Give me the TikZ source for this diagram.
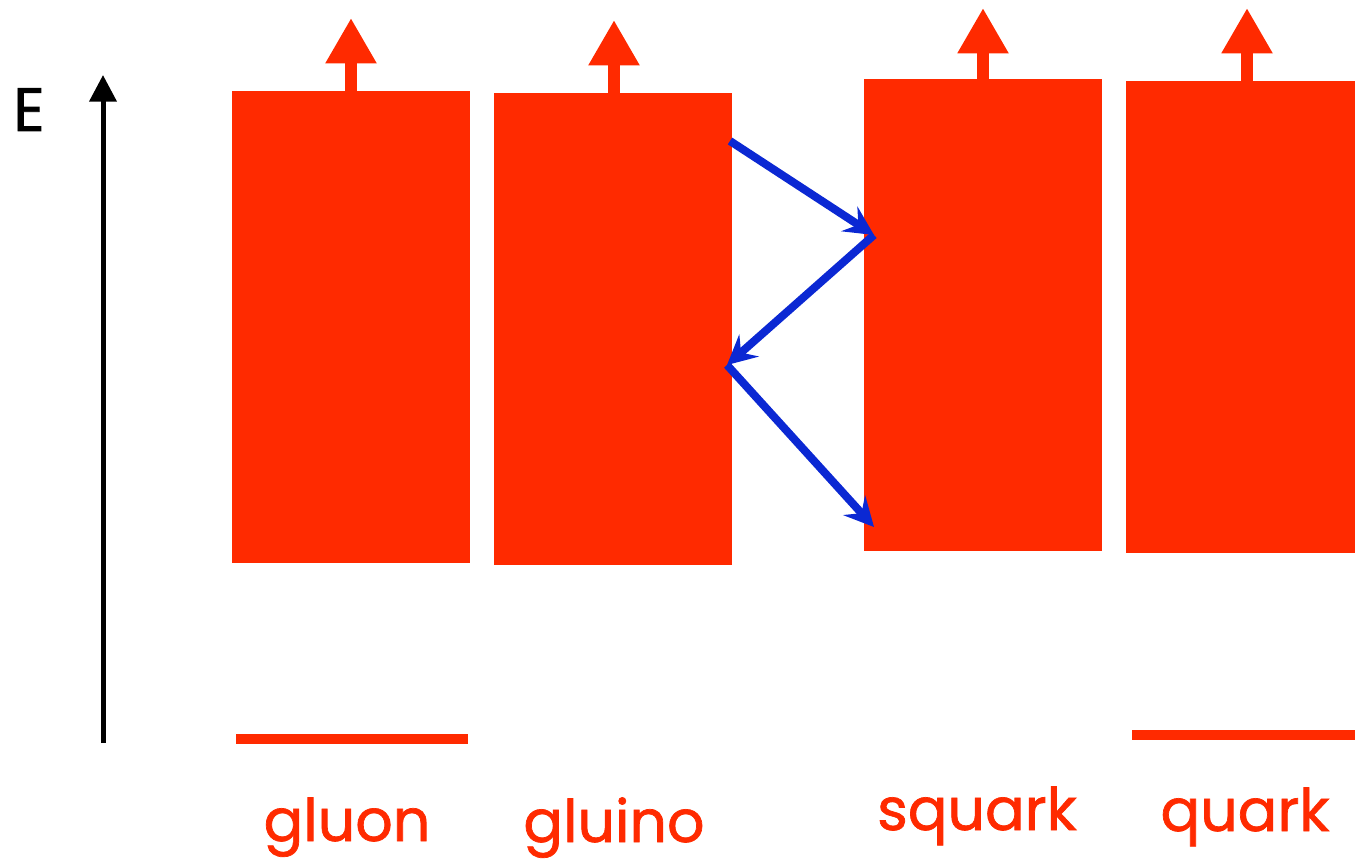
\documentclass[tikz,border=0pt]{standalone}
\usepackage{fontspec}
\setmainfont{Poppins}
\newfontfamily\lblfont[FakeBold=1.2]{Poppins}
\usetikzlibrary{arrows.meta}
\definecolor{hot}{HTML}{FF2A00}
\definecolor{zblue}{HTML}{0B28D3}
\begin{document}
\begin{tikzpicture}[x=0.75pt,y=-0.75pt,
  box/.style={fill=hot,draw=none,inner sep=0pt,outer sep=0pt,minimum width=178.5pt,minimum height=354pt},
  uparrow/.style={draw=hot,line width=9pt,-{Triangle[width=36pt,length=34pt]}},
  transition/.style={draw=zblue,line width=6pt,-{Stealth[length=22pt,width=22pt,inset=8pt]}},
  level/.style={draw=hot,line width=7.5pt},
  lbl/.style={text=hot,font=\lblfont\fontsize{44}{50}\selectfont,anchor=base,inner sep=0pt}]
\useasboundingbox (0,0) rectangle (1355,862);
% energy axis
\coordinate (axbot) at (103,743);
\coordinate (axtop) at (103,75);
\draw[line width=3.75pt,-{Triangle[width=20pt,length=20pt]}] (axbot) -- (axtop);
\node[anchor=base,inner sep=0pt,font=\lblfont\fontsize{46}{50}\selectfont] (E) at (29,131) {E};
% boxes
\node[box] (gluonbox) at (351,327) {};
\node[box] (gluinobox) at (613,329) {};
\node[box] (squarkbox) at (983,315) {};
\node[box,minimum width=171.75pt,anchor=north west] (quarkbox) at (1126,81) {};
% up arrows
\coordinate (t1) at (351,18);
\coordinate (t2) at (614,20);
\coordinate (t3) at (983,8);
\coordinate (t4) at (1247,8);
\draw[uparrow] (351,91) coordinate (b1) -- (t1);
\draw[uparrow] (614,93) coordinate (b2) -- (t2);
\draw[uparrow] (983,79) coordinate (b3) -- (t3);
\draw[uparrow] (1247,81) coordinate (b4) -- (t4);
% transitions
\coordinate (p1) at (730,141);
\coordinate (p2) at (874,235);
\coordinate (p3) at (727,365);
\coordinate (p4) at (874,527);
\draw[transition] (p1) -- (p2);
\draw[transition] (p2) -- (p3);
\draw[transition] (p3) -- (p4);
% levels
\coordinate (g1) at (236,739);
\coordinate (g2) at (468,739);
\coordinate (q1) at (1132,735);
\coordinate (q2) at (1355,735);
\draw[level] (g1) -- (g2);
\draw[level] (q1) -- (q2);
% labels
\node[lbl] (lgluon) at (347,841) {gluon};
\node[lbl] (lgluino) at (614,842) {gluino};
\node[lbl] (lsquark) at (977,830) {squark};
\node[lbl] (lquark) at (1245,831) {quark};
\end{tikzpicture}
\end{document}
